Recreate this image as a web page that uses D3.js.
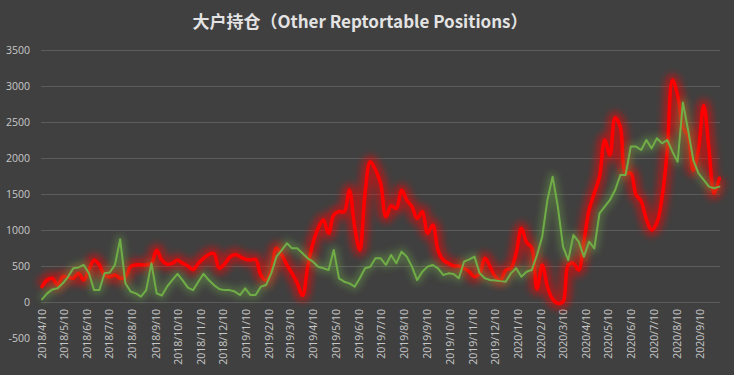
<!DOCTYPE html>
<html>
<head>
<meta charset="utf-8">
<script src="https://cdn.jsdelivr.net/npm/d3@7"></script>
<style>
  html, body { margin: 0; padding: 0; background: #404040; }
  svg { display: block; }
</style>
</head>
<body>
<svg id="chart" width="734" height="375"></svg>
<script>
// weekly COT report dates, starting Tuesday 2018/4/10
var startDate = new Date(2018, 3, 10),
    weekCount = 131;

// red series (thick, smoothed)
var redValues = [
    213, 305, 330, 235, 350, 340, 330, 400, 305, 445,
    580, 515, 375, 350, 375, 330, 350, 490, 515, 515,
    515, 537, 720, 580, 525, 537, 580, 537, 500, 450,
    537, 605, 660, 675, 470, 525, 620, 660, 630, 595,
    583, 590, 375, 305, 440, 745, 653, 514, 398, 260,
    90, 490, 815, 1023, 1139, 954, 1208, 1255, 1255, 1556,
    1046, 722, 1509, 1949, 1833, 1648, 1185, 1335, 1300, 1555,
    1417, 1324, 1162, 1255, 954, 1069, 722, 583, 537, 500,
    500, 468, 421, 352, 400, 607, 491, 352, 305, 440,
    470, 676, 1023, 830, 750, 180, 514, 213, 40, -18,
    5, 514, 537, 445, 838, 1278, 1509, 1741, 2250, 2042,
    2560, 2430, 1790, 1790, 1490, 1400, 1150, 1000, 1100, 1450,
    2100, 3080, 2870, 2430, 2300, 1830, 2130, 2730, 2130, 1510,
    1720
];

// green series (thin)
var greenValues = [
    37, 120, 175, 190, 260, 350, 470, 480, 515, 400,
    165, 165, 400, 410, 515, 870, 260, 145, 120, 75,
    165, 537, 120, 90, 213, 305, 390, 300, 200, 165,
    280, 390, 305, 235, 180, 165, 165, 145, 97, 190,
    97, 97, 213, 236, 398, 630, 720, 815, 745, 745,
    676, 607, 560, 490, 468, 445, 722, 329, 282, 259,
    213, 329, 468, 490, 607, 607, 514, 653, 537, 700,
    630, 491, 305, 421, 491, 514, 468, 375, 398, 390,
    329, 560, 593, 630, 398, 329, 305, 300, 290, 282,
    398, 468, 352, 421, 445, 653, 907, 1417, 1741, 1324,
    769, 583, 930, 838, 630, 838, 745, 1232, 1324, 1417,
    1556, 1764, 1764, 2158, 2158, 2111, 2250, 2134, 2273, 2204,
    2250, 2088, 1949, 2770, 2389, 1972, 1787, 1695, 1602, 1579,
    1602
];

var yTicks = [-500, 0, 500, 1000, 1500, 2000, 2500, 3000, 3500];

// first and last month label on the date axis
var firstLabel = new Date(2018, 3, 10),
    lastLabel = new Date(2020, 8, 10);

var titleText = '大户持仓（Other Reptortable Positions）';

var svg = d3.select('#chart'),
    width = 734,
    height = 375;

var dates = d3.range(weekCount).map(function (i) {
    return d3.timeDay.offset(startDate, i * 7);
});

var x = d3.scaleTime()
    .domain([firstLabel, lastLabel])
    .range([42, 700]);

var y = d3.scaleLinear()
    .domain([-500, 3500])
    .range([338, 50]);

svg.append('rect')
    .attr('width', width)
    .attr('height', height)
    .attr('fill', '#404040');

// glow filter, shared by both lines
var defs = svg.append('defs');
defs.append('filter')
    .attr('id', 'glow')
    .attr('x', '-10%').attr('y', '-30%')
    .attr('width', '120%').attr('height', '160%')
    .append('feGaussianBlur')
    .attr('stdDeviation', 3.5);

svg.append('text')
    .attr('x', 360)
    .attr('y', 28)
    .attr('text-anchor', 'middle')
    .attr('fill', '#e3e3e3')
    .attr('font-family', '"Noto Sans CJK SC", "Noto Sans", sans-serif')
    .attr('font-size', 17)
    .attr('font-weight', 'bold')
    .text(titleText);

// horizontal gridlines (no line at the -500 row, the labels sit there)
svg.append('g')
    .selectAll('line')
    .data(yTicks.filter(function (d) { return d >= 0; }))
    .enter()
    .append('line')
    .attr('x1', 41)
    .attr('x2', 720)
    .attr('y1', function (d) { return Math.round(y(d)) + 0.5; })
    .attr('y2', function (d) { return Math.round(y(d)) + 0.5; })
    .attr('stroke', '#5c5c5c')
    .attr('stroke-width', 1);

// y axis labels
svg.append('g')
    .selectAll('text')
    .data(yTicks)
    .enter()
    .append('text')
    .attr('x', 30)
    .attr('y', function (d) { return y(d); })
    .attr('dy', '0.35em')
    .attr('text-anchor', 'end')
    .attr('fill', '#c8c8c8')
    .attr('font-family', '"Open Sans", "Noto Sans", sans-serif')
    .attr('font-size', 10.5)
    .text(function (d) { return d; });

// x axis labels, one per month on the 10th
var monthTicks = d3.timeMonth.range(d3.timeMonth.floor(firstLabel), lastLabel)
    .map(function (m) { return d3.timeDay.offset(m, 9); });
var fmt = d3.timeFormat('%Y/%-m/%-d');

svg.append('g')
    .selectAll('text')
    .data(monthTicks)
    .enter()
    .append('text')
    .attr('transform', function (d) {
        return 'translate(' + x(d) + ',309) rotate(-90)';
    })
    .attr('dy', '0.35em')
    .attr('text-anchor', 'end')
    .attr('fill', '#c8c8c8')
    .attr('font-family', '"Open Sans", "Noto Sans", sans-serif')
    .attr('font-size', 10.5)
    .text(function (d) { return fmt(d); });

function drawSeries(values, color, lineWidth, glowWidth, glowOpacity, curve) {
    var line = d3.line()
        .x(function (d, i) { return x(dates[i]); })
        .y(function (d) { return y(d); })
        .curve(curve);

    svg.append('path')
        .datum(values)
        .attr('d', line)
        .attr('fill', 'none')
        .attr('stroke', color)
        .attr('stroke-width', glowWidth)
        .attr('stroke-linejoin', 'round')
        .attr('opacity', glowOpacity)
        .attr('filter', 'url(#glow)');

    svg.append('path')
        .datum(values)
        .attr('d', line)
        .attr('fill', 'none')
        .attr('stroke', color)
        .attr('stroke-width', lineWidth)
        .attr('stroke-linejoin', 'round')
        .attr('stroke-linecap', 'round');
}

drawSeries(redValues, '#ff0000', 3.5, 13, 0.5, d3.curveCatmullRom.alpha(0.5));
drawSeries(greenValues, '#70ad47', 2, 8, 0.4, d3.curveLinear);
</script>
</body>
</html>
